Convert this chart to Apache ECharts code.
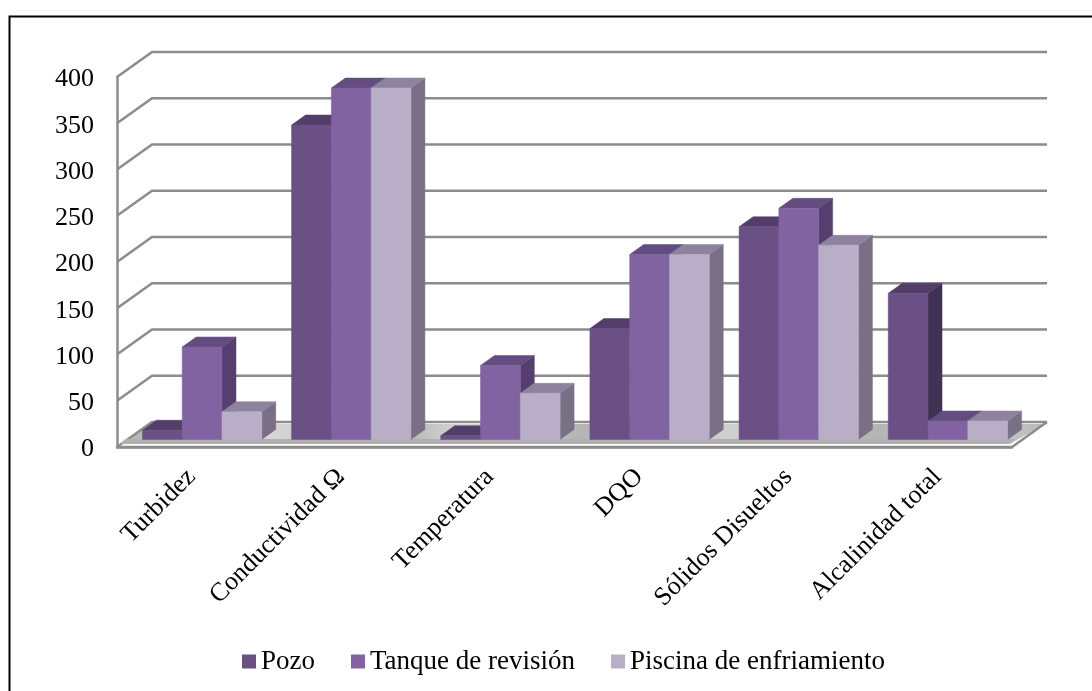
<!DOCTYPE html>
<html>
<head>
<meta charset="utf-8">
<script src="https://cdn.jsdelivr.net/npm/echarts@6/dist/echarts.min.js"></script>
<style>html,body{margin:0;padding:0;background:#fff}#c{width:1092px;height:691px}</style>
</head>
<body>
<div id="c"></div>
<script>
const categories = ['Turbidez', 'Conductividad Ω', 'Temperatura', 'DQO', 'Sólidos Disueltos', 'Alcalinidad total'];
const pozo = [10, 340, 4, 120, 230, 158];
const tanque = [100, 380, 80, 200, 250, 20];
const piscina = [30, 380, 50, 200, 210, 20];
const yTicks = [0, 50, 100, 150, 200, 250, 300, 350, 400];

const serif = '"Liberation Serif", "Times New Roman", serif';
const wallDx = 35, wallDy = -25;
const barShiftX = 10.5, barShiftY = -7.5;
const barDx = 14, barDy = -10;
const GRAY = '#8c8c8c';

function barSeries(name, values, idx, front, top, side) {
  return {
    name, type: 'custom', z: 5,
    itemStyle: { color: front },
    data: values.map((v, i) => [i, v]),
    renderItem(params, api) {
      const cat = api.value(0), val = api.value(1);
      const band = api.size([1, 0])[0];
      const w = band * 0.2667;
      const c = api.coord([cat, val]);
      const b = api.coord([cat, 0]);
      const x0 = c[0] - 1.5 * w + idx * w + barShiftX;
      const x1 = x0 + w;
      const yT = c[1] + barShiftY, yB = b[1] + barShiftY;
      const poly = (pts, fill) => ({ type: 'polygon', shape: { points: pts }, style: { fill, stroke: fill, lineWidth: 0.5 } });
      return {
        type: 'group',
        children: [
          poly([[x1, yT], [x1 + barDx, yT + barDy], [x1 + barDx, yB + barDy], [x1, yB]], side),
          poly([[x0, yT], [x0 + barDx, yT + barDy], [x1 + barDx, yT + barDy], [x1, yT]], top),
          poly([[x0, yT], [x1, yT], [x1, yB], [x0, yB]], front)
        ]
      };
    }
  };
}

const wallSeries = {
  type: 'custom', name: 'wall', z: 1, silent: true,
  data: yTicks.map(v => [0, v]),
  renderItem(params, api) {
    const cs = params.coordSys;
    const y = api.coord([0, api.value(1)])[1];
    const left = cs.x, right = cs.x + cs.width;
    const line = { stroke: GRAY, lineWidth: 2.5 };
    const children = [
      { type: 'polyline', shape: { points: [[left, y], [left + wallDx, y + wallDy], [right + wallDx, y + wallDy]] }, style: { ...line, fill: null } }
    ];
    if (api.value(1) === 0) {
      children.unshift({
        type: 'polygon',
        shape: { points: [[left + 3, y - 3], [left + wallDx, y + wallDy + 2], [right + wallDx - 2, y + wallDy + 2], [right - 2, y - 3]] },
        style: {
          fill: {
            type: 'linear', x: 0, y: 0, x2: 1, y2: 0.02,
            colorStops: [
              { offset: 0, color: '#b4b4b4' }, { offset: 0.16, color: '#d8d8d8' },
              { offset: 0.3, color: '#b2b2b2' }, { offset: 0.37, color: '#d6d6d6' },
              { offset: 0.5, color: '#b4b4b4' }, { offset: 0.66, color: '#d0d0d0' },
              { offset: 0.82, color: '#b4b4b4' }, { offset: 0.9, color: '#d4d4d4' },
              { offset: 1, color: '#b8b8b8' }
            ]
          }
        }
      });
      children.push({
        type: 'polygon',
        shape: { points: [[left + 9, y - 8], [right + 3, y - 8], [right - 2, y - 3], [left + 3, y - 3]] },
        style: { fill: '#b0b0b0' }
      });
      children.push({
        type: 'polyline',
        shape: { points: [[left, y], [right, y], [right + wallDx, y + wallDy]] },
        style: { ...line, fill: null }
      });
    }
    return { type: 'group', children };
  }
};

const chart = echarts.init(document.getElementById('c'), null, { renderer: 'canvas' });
chart.setOption({
  animation: false,
  backgroundColor: '#fff',
  grid: { left: 117, right: 80, top: 77, bottom: 244, containLabel: false },
  legend: {
    left: 242, top: 648, padding: 0, itemWidth: 14, itemHeight: 14, itemGap: 36, icon: 'rect',
    data: ['Pozo', 'Tanque de revisión', 'Piscina de enfriamiento'],
    textStyle: { fontFamily: serif, fontSize: 27, color: '#000' }
  },
  xAxis: {
    type: 'category', data: categories,
    axisTick: { show: false },
    axisLine: { show: true, lineStyle: { color: GRAY, width: 2.5 } },
    axisLabel: { rotate: 45, interval: 0, margin: 26, fontFamily: serif, fontSize: 26, color: '#000' }
  },
  yAxis: {
    type: 'value', min: 0, max: 400, interval: 50,
    splitLine: { show: false },
    axisTick: { show: false },
    axisLine: { show: true, lineStyle: { color: GRAY, width: 2.5 } },
    axisLabel: {
      margin: 23, formatter: '{a|{value}}',
      rich: { a: { fontFamily: serif, fontSize: 26, color: '#000', padding: [5, 0, 0, 0] } }
    }
  },
  graphic: [
    { type: 'polyline', z: 10, shape: { points: [[9.5, 691], [9.5, 16.5], [1092, 16.5]] }, style: { stroke: '#000', lineWidth: 2, fill: null } }
  ],
  series: [
    wallSeries,
    barSeries('Pozo', pozo, 0, '#6b5086', '#533e69', '#3f3254'),
    barSeries('Tanque de revisión', tanque, 1, '#8063a0', '#634c80', '#553f6f'),
    barSeries('Piscina de enfriamiento', piscina, 2, '#b9aec8', '#8e839f', '#7a7085')
  ]
});
</script>
</body>
</html>
